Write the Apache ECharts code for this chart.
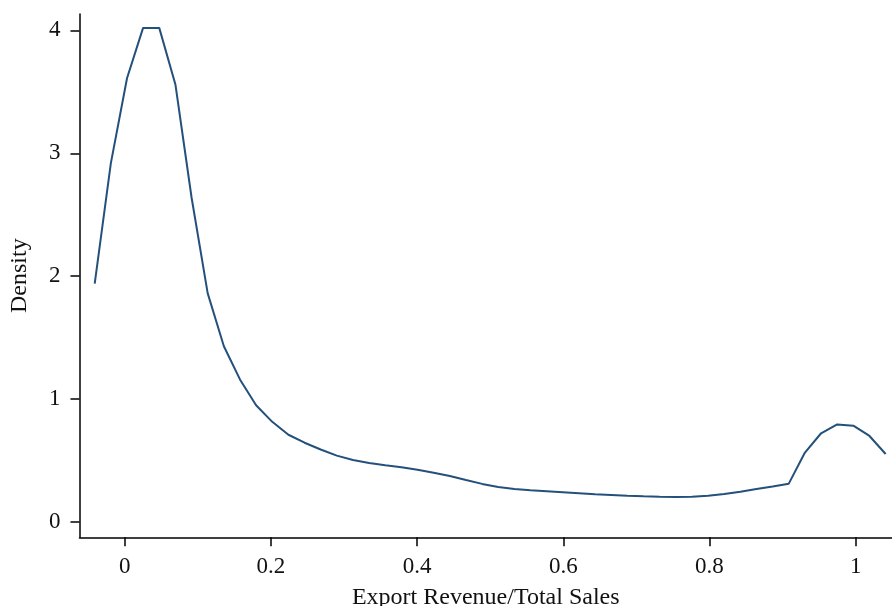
<!DOCTYPE html>
<html>
<head>
<meta charset="utf-8">
<style>html,body{margin:0;padding:0;background:#fff;}#chart{width:892px;height:606px;}</style>
<script src="https://cdn.jsdelivr.net/npm/echarts@6/dist/echarts.min.js"></script>
</head>
<body>
<div id="chart"></div>
<script>
const xValues = [-0.0410,-0.0189,0.0032,0.0252,0.0473,0.0694,0.0915,0.1136,0.1357,0.1577,
  0.1798,0.2019,0.2240,0.2461,0.2681,0.2902,0.3123,0.3344,0.3565,0.3786,
  0.4006,0.4227,0.4448,0.4669,0.4890,0.5110,0.5331,0.5552,0.5773,0.5994,
  0.6214,0.6435,0.6656,0.6877,0.7098,0.7319,0.7539,0.7760,0.7981,0.8202,
  0.8423,0.8643,0.8864,0.9085,0.9306,0.9527,0.9747,0.9968,1.0189,1.0410];
const densityValues = [1.94,2.92,3.61,4.02,4.02,3.56,2.64,1.86,1.43,1.16,
  0.95,0.815,0.71,0.645,0.59,0.54,0.505,0.48,0.462,0.446,
  0.425,0.40,0.375,0.342,0.31,0.285,0.268,0.258,0.25,0.242,
  0.234,0.226,0.22,0.214,0.209,0.205,0.203,0.206,0.214,0.228,
  0.247,0.268,0.288,0.312,0.565,0.722,0.794,0.784,0.70,0.553];
const xTicks = [0,0.2,0.4,0.6,0.8,1];
const yTicks = [0,1,2,3,4];
const xTitle = 'Export Revenue/Total Sales';
const yTitle = 'Density';

const font = 'Liberation Serif';
const chart = echarts.init(document.getElementById('chart'), null, {renderer:'canvas'});
chart.setOption({
  animation:false,
  backgroundColor:'#fff',
  grid:{left:79.5, top:14, right:0, bottom:68.7, containLabel:false, outerBoundsMode:'none'},
  xAxis:{
    type:'value', min:-0.0618, max:1.0497,
    name:xTitle, nameLocation:'middle', nameGap:48,
    nameTextStyle:{fontFamily:font, fontSize:24, color:'#111'},
    axisLine:{show:true, onZero:false, lineStyle:{color:'#000', width:1.5}},
    axisTick:{show:true, inside:false, length:9, customValues:xTicks, lineStyle:{color:'#000', width:1.5}},
    axisLabel:{show:true, margin:18, customValues:xTicks, fontFamily:font, fontSize:23, color:'#111',
      formatter:v=>String(v)},
    splitLine:{show:false}
  },
  yAxis:{
    type:'value', min:-0.1245, max:4.133,
    name:yTitle, nameLocation:'middle', nameGap:48,
    nameTextStyle:{fontFamily:font, fontSize:24, color:'#111'},
    axisLine:{show:true, onZero:false, lineStyle:{color:'#000', width:1.5}},
    axisTick:{show:true, inside:false, length:9, customValues:yTicks, lineStyle:{color:'#000', width:1.5}},
    axisLabel:{show:true, margin:19, customValues:yTicks, fontFamily:font, fontSize:23, color:'#111'},
    splitLine:{show:false}
  },
  series:[{
    type:'line',
    data:xValues.map((x,i)=>[x, densityValues[i]]),
    showSymbol:false, smooth:false,
    lineStyle:{color:'#24507c', width:2},
    clip:false
  }]
});
</script>
</body>
</html>
